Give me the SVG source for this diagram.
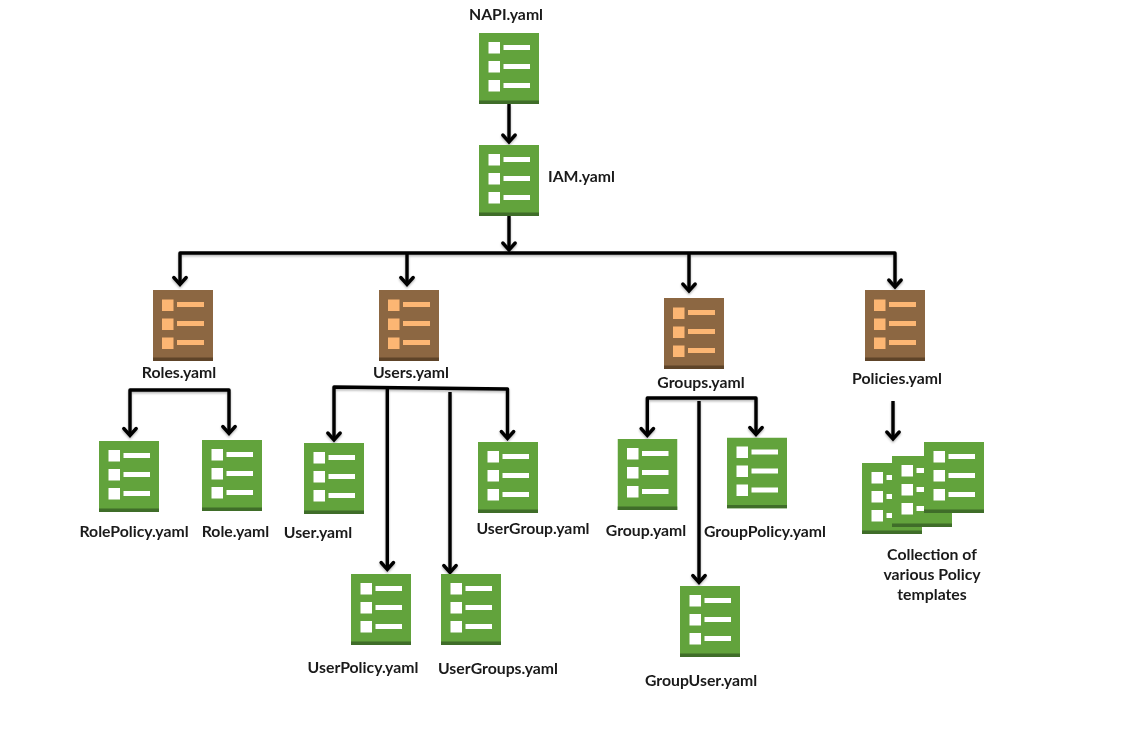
<svg xmlns="http://www.w3.org/2000/svg" width="1135" height="754" viewBox="0 0 1135 754">
<style>
text{font-family:"Lato","Liberation Sans",sans-serif;font-weight:700;font-size:15.800px;fill:#1a1a1a;text-anchor:middle}
.c{fill:none;stroke:#000;stroke-width:3.4;stroke-linejoin:round}
.h{fill:none;stroke:#000;stroke-width:3.4;stroke-linecap:round;stroke-linejoin:miter}
.gb{fill:#62a33c}.gf{fill:#3f6d29}.gi{fill:#fff}
.bb{fill:#8c6742}.bf{fill:#5e4429}.bi{fill:#fcb673}
</style>
<defs>
<filter id="sh" x="-5%" y="-5%" width="110%" height="110%"><feDropShadow dx="0" dy="1.500" stdDeviation="1.200" flood-color="#000" flood-opacity=".3"/></filter>
<symbol id="g" width="60" height="71" viewBox="0 0 60 71"><rect class="gb" width="60" height="71"/><rect class="gf" y="67.500" width="60" height="3.500"/><g class="gi"><rect x="9.500" y="9" width="11.500" height="11.500"/><rect x="9.500" y="28" width="11.500" height="11.500"/><rect x="9.500" y="47" width="11.500" height="11.500"/><rect x="24.500" y="12" width="26.500" height="5"/><rect x="24.500" y="31" width="26.500" height="5"/><rect x="24.500" y="50" width="26.500" height="5"/></g></symbol>
<symbol id="b" width="60" height="71" viewBox="0 0 60 71"><rect class="bb" width="60" height="71"/><rect class="bf" y="67.500" width="60" height="3.500"/><g class="bi"><rect x="9" y="9.500" width="11.500" height="11.500"/><rect x="9" y="28.500" width="11.500" height="11.500"/><rect x="9" y="47.500" width="11.500" height="11.500"/><rect x="24" y="12" width="27" height="5"/><rect x="24" y="31" width="27" height="5"/><rect x="24" y="50" width="27" height="5"/></g></symbol>
<path id="ah" class="h" d="M-6.200 -9.500 L0 -2.500 L6.200 -9.500"/>
</defs>
<g id="connectors" filter="url(#sh)">
<path class="c" d="M509 104V142"/><use href="#ah" x="509" y="144.500"/>
<path class="c" d="M509 216V250"/><use href="#ah" x="509" y="252.500"/>
<path class="c" d="M180 284V253H895V287"/>
<use href="#ah" x="180" y="287"/>
<path class="c" d="M407 253V284"/><use href="#ah" x="407" y="287"/>
<path class="c" d="M689 253V291"/><use href="#ah" x="689" y="293.500"/>
<use href="#ah" x="895" y="289.500"/>
<path class="c" d="M130 435V390H229V433"/><use href="#ah" x="130" y="438"/><use href="#ah" x="229" y="436"/>
<path class="c" d="M334 440V387L507.500 389V438"/><use href="#ah" x="334" y="442.500"/><use href="#ah" x="507.500" y="441"/>
<path class="c" d="M387.300 388V569"/><use href="#ah" x="387.300" y="572"/>
<path class="c" d="M450 392V572"/><use href="#ah" x="450" y="575"/>
<path class="c" d="M647.300 435V398H756V434"/><use href="#ah" x="647.300" y="438"/><use href="#ah" x="756" y="437"/>
<path class="c" d="M699 401V582"/><use href="#ah" x="699" y="585"/>
<path class="c" d="M893 401V439"/><use href="#ah" x="893" y="441.500"/>
</g>
<g id="napi"><use href="#g" x="479" y="33"/><text x="506" y="20">NAPI.yaml</text></g>
<g id="iam"><use href="#g" x="479" y="145"/><text x="581.500" y="182">IAM.yaml</text></g>
<g id="roles"><use href="#b" x="153" y="290"/><text x="179" y="378">Roles.yaml</text></g>
<g id="users"><use href="#b" x="379" y="290"/><text x="411" y="378">Users.yaml</text></g>
<g id="groups"><use href="#b" x="664" y="298"/><text x="701" y="388">Groups.yaml</text></g>
<g id="policies"><use href="#b" x="865" y="290"/><text x="897" y="384">Policies.yaml</text></g>
<g id="rolepolicy"><use href="#g" x="99" y="441"/><text x="134" y="537">RolePolicy.yaml</text></g>
<g id="role"><use href="#g" x="202" y="440"/><text x="235.500" y="537">Role.yaml</text></g>
<g id="user"><use href="#g" x="304" y="443"/><text x="318" y="538">User.yaml</text></g>
<g id="usergroup"><use href="#g" x="478" y="442"/><text x="533" y="534">UserGroup.yaml</text></g>
<g id="userpolicy"><use href="#g" x="351" y="574"/><text x="363" y="673">UserPolicy.yaml</text></g>
<g id="usergroups"><use href="#g" x="441" y="574"/><text x="498" y="674">UserGroups.yaml</text></g>
<g id="group"><use href="#g" x="617.500" y="439"/><text x="646" y="536">Group.yaml</text></g>
<g id="grouppolicy"><use href="#g" x="727" y="437.500"/><text x="765" y="537">GroupPolicy.yaml</text></g>
<g id="groupuser"><use href="#g" x="680" y="586"/><text x="701" y="686">GroupUser.yaml</text></g>
<g id="policy-collection"><use href="#g" x="862" y="463"/><use href="#g" x="892" y="456"/><use href="#g" x="924" y="442"/><text x="932" y="560">Collection of</text><text x="932" y="580">various Policy</text><text x="932" y="600">templates</text></g>
</svg>
